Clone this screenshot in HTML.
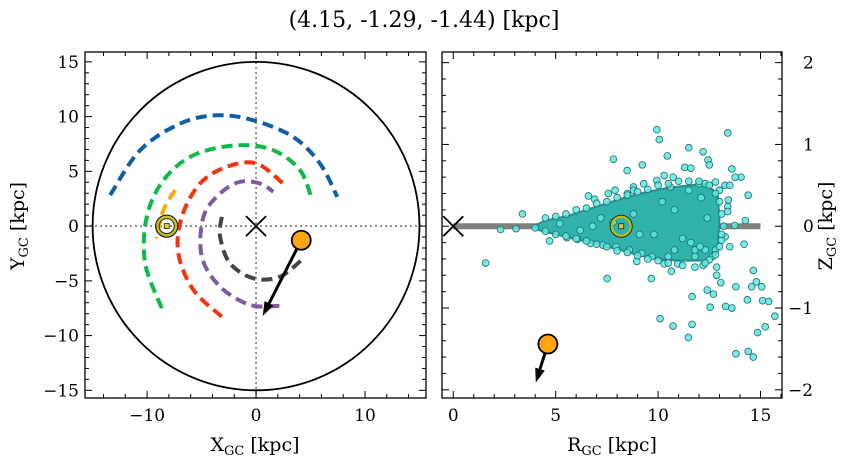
<!DOCTYPE html>
<html><head><meta charset="utf-8"><style>
html,body{margin:0;padding:0;background:#fff;width:854px;height:464px;overflow:hidden}
svg{display:block;font-family:"DejaVu Serif","Liberation Serif",serif}
</style></head><body>
<svg id="chart" width="854" height="464" viewBox="0 0 854 464" xmlns="http://www.w3.org/2000/svg">
<text x="424" y="27" font-size="22" text-anchor="middle">(4.15, -1.29, -1.44) [kpc]</text>
<g id="left"></g>
<g id="right"></g>
</svg>
<script>
// ---------- data ----------
const orbitBlue = [[-13.39,2.83],[-10.64,6.93],[-6.97,9.36],[-3.61,10.12],[-0.24,9.66],[3.42,8.14],[5.87,5.71],[7.46,2.67]];
const orbitGreen = [[-8.65,-7.5],[-10.18,-3.4],[-10.03,0.85],[-8.5,4.19],[-5.75,6.47],[-1.77,7.38],[1.59,6.93],[4.04,5.1],[5.11,2.52]];
const orbitOrange = [[-7.43,3.28],[-8.5,1.46],[-9.17,-1.12]];
const orbitRed = [[-3.15,-8.27],[-5.75,-5.83],[-7.13,-2.49],[-6.82,0.85],[-5.14,3.89],[-2.69,5.41],[0.06,5.71],[2.66,3.74]];
const orbitPurple = [[2.14,-7.29],[-0.55,-7.2],[-3.3,-5.53],[-4.98,-2.8],[-4.83,0.85],[-3.3,2.98],[-1.47,4.04],[0.37,3.89],[1.59,3.13]];
const orbitGrey = [[-3.15,0.85],[-3.3,-0.97],[-2.39,-3.4],[-0.24,-4.77],[2.2,-4.62],[4.34,-2.95]];
const starXY = [4.15,-1.29];
const arrowXY = [0.61,-8.2];
const sunXY = [-8.2,0];
const starRZ = [4.62,-1.44];
const arrowRZ = [4.03,-1.91];
const sunRZ = [8.2,0.0];
const coreR = [3.9,4.5,5.5,6.5,7.5,8.5,9.5,10.5,11.5,12.3,12.9,13.0,12.9,12.3,11,10,9,8,7,6,5,4.2];
const coreZ = [0.0,0.07,0.12,0.2,0.28,0.36,0.42,0.47,0.5,0.52,0.4,0.1,-0.3,-0.42,-0.42,-0.4,-0.35,-0.28,-0.22,-0.16,-0.1,-0.05];
const ptR = [9.94,10.06,13.4,11.5,12.2,7.82,10.45,9.23,8.49,13.6,14.05,14.4,6.6,3.38,2.31,3.07,1.58,4.7,7.51,9.67,10.1,10.73,11.66,11.48,11.66,12.4,12.7,12.54,13.3,13.6,13.8,13.8,14.4,14.65,14.86,15.23,15.7,14.65,14.8,15.06,15.1,15.4,14.36,14.57,14.2,14.26,13.74,12.86,13.06,12.86,12.2,11.8,10.96,10.65,10.3,8.96,13.76,12.44,12.5,11.3,11.6,10.74,10.3,9.94,13.27,13.5,13.0,13.43,13.4,13.4,13.27,13.5,13.1,12.66,12.5,12.3,12.8,8.8,8.8,8.5,7.57,7.9,6.9,9.3,10.6,11.5,12.0,12.3,12.8,10.8,10.5,9.7,9.2,8.6,7.95,7.3,6.7,6.05,5.55,11.8,12.05,
 4.5,5,5.5,6,6.5,7,7.5,8,8.5,9,9.5,10,10.5,11,11.5,12,12.5,12.8,13,13.1,13.2,13.1,13,12.8,12.3,11.8,11.2,10.5,10,9.5,9,8.5,8,7.5,7,6.5,6,5.5,5,4.5,4,
 5.2,6.2,7.2,8.8,9.8,10.8,11.6,12.4,10.2,11.2,12.1,9.1,7.8,6.8];
const ptZ = [1.18,1.06,1.14,0.96,0.91,0.82,0.86,0.75,0.68,0.70,0.60,0.38,0.37,0.15,-0.04,-0.03,-0.45,-0.18,-0.64,-0.64,-1.13,-1.22,-1.2,-1.36,-0.86,-0.78,-0.83,-0.99,-0.98,-1.0,-0.74,-1.56,-1.53,-1.6,-1.30,-1.23,-1.10,-0.54,-0.68,-0.74,-0.91,-0.92,-0.90,-0.74,-0.22,0.07,0.01,-0.60,-0.69,-0.5,-0.48,-0.29,-0.46,-0.55,-0.46,-0.43,0.6,0.81,0.75,0.72,0.71,0.60,0.62,0.56,0.5,0.5,0.44,0.32,0.24,0.18,-0.13,-0.25,-0.17,-0.37,-0.41,-0.29,-0.29,0.48,0.44,0.40,0.4,0.44,0.33,0.52,0.48,0.44,0.52,0.52,0.54,-0.29,-0.37,-0.37,-0.33,-0.29,-0.25,-0.23,-0.21,-0.16,-0.14,-0.37,-0.25,
 0.1,0.12,0.15,0.2,0.22,0.28,0.3,0.35,0.38,0.42,0.45,0.5,0.52,0.55,0.55,0.55,0.5,0.4,0.3,0.15,0,-0.1,-0.25,-0.35,-0.45,-0.5,-0.48,-0.45,-0.42,-0.4,-0.36,-0.32,-0.3,-0.25,-0.22,-0.18,-0.15,-0.12,-0.1,-0.06,-0.02,
 0.03,-0.05,0.1,0.15,-0.1,0.2,-0.2,0.1,0.3,-0.15,0.35,-0.1,0.05,0.0];
const leftXTicks = [-10,0,10];
const leftYTicks = [-15,-10,-5,0,5,10,15];
const rightXTicks = [0,5,10,15];
const rightYTicks = [-2,-1,0,1,2];

// ---------- helpers ----------
const NS = "http://www.w3.org/2000/svg";
function mk(tag, parent, attrs){const e=document.createElementNS(NS,tag);for(const k in attrs)e.setAttribute(k,attrs[k]);parent.appendChild(e);return e;}
function lin(d0,d1,p0,p1){return v=>p0+(v-d0)*(p1-p0)/(d1-d0);}
function smooth(pts){let d="M"+pts[0][0]+","+pts[0][1];for(let i=0;i<pts.length-1;i++){const p0=pts[Math.max(0,i-1)],p1=pts[i],p2=pts[i+1],p3=pts[Math.min(pts.length-1,i+2)];const c1=[p1[0]+(p2[0]-p0[0])/6,p1[1]+(p2[1]-p0[1])/6],c2=[p2[0]-(p3[0]-p1[0])/6,p2[1]-(p3[1]-p1[1])/6];d+=" C"+c1+" "+c2+" "+p2;}return d;}
function fmt(v){return v<0?"\u2212"+Math.abs(v):""+v;}

// ---------- left panel ----------
const L = document.getElementById("left");
const lx = lin(-15.7,15.6,85,426), ly = lin(15.9,-15.7,52,398);
const clipL = mk("clipPath", L, {id:"clipL"}); mk("rect", clipL, {x:85,y:52,width:341,height:346});
const gL = mk("g", L, {"clip-path":"url(#clipL)"});
let el;
el = mk("line", gL, {x1:lx(0),y1:52,x2:lx(0),y2:398,stroke:"#777","stroke-width":1.6,"stroke-dasharray":"2,3"});


el = mk("line", gL, {x1:85,y1:ly(0),x2:426,y2:ly(0),stroke:"#777","stroke-width":1.6,"stroke-dasharray":"2,3"});


el = mk("ellipse", gL, {cx:lx(0),cy:ly(0),rx:lx(15)-lx(0),ry:ly(-15)-ly(0),fill:"none",stroke:"#000","stroke-width":1.8});


const orbits=[[orbitBlue,"#0f5fa5","orbit-blue"],[orbitGreen,"#10b84a","orbit-green"],[orbitOrange,"#ffa500","orbit-orange"],[orbitRed,"#f5330f","orbit-red"],[orbitPurple,"#7f5a9c","orbit-purple"],[orbitGrey,"#454545","orbit-grey"]];
orbits.forEach(o=>{
  el = mk("path", gL, {d:smooth(o[0].map(p=>[lx(p[0]),ly(p[1])])),fill:"none",stroke:o[1],"stroke-width":4,"stroke-dasharray":"11,6"});
  
  
});
function cross(g,x,y,s){const c=mk("g",g,{});mk("line",c,{x1:x-s,y1:y-s,x2:x+s,y2:y+s,stroke:"#000","stroke-width":1.8});mk("line",c,{x1:x-s,y1:y+s,x2:x+s,y2:y-s,stroke:"#000","stroke-width":1.8});return c;}
el = cross(gL,lx(0),ly(0),10);


function sun(g,x,y){const s=mk("g",g,{});mk("circle",s,{cx:x,cy:y,r:11,fill:"none",stroke:"#222","stroke-width":1.3});mk("circle",s,{cx:x,cy:y,r:9,fill:"none",stroke:"#c8c000","stroke-width":2.2});mk("circle",s,{cx:x,cy:y,r:7.5,fill:"none",stroke:"#222","stroke-width":1});mk("rect",s,{x:x-2.5,y:y-2.5,width:5,height:5,fill:"#d9d040",stroke:"#222","stroke-width":0.8});return s;}
el = sun(gL,lx(sunXY[0]),ly(sunXY[1]));


function arrow(g,x1,y1,x2,y2,w){const a=mk("g",g,{});const ang=Math.atan2(y2-y1,x2-x1),h=14,hw=5;const bx=x2-h*Math.cos(ang),by=y2-h*Math.sin(ang);mk("line",a,{x1:x1,y1:y1,x2:bx,y2:by,stroke:"#000","stroke-width":w});mk("polygon",a,{points:[x2,y2,bx-hw*Math.sin(ang),by+hw*Math.cos(ang),bx+hw*Math.sin(ang),by-hw*Math.cos(ang)].join(","),fill:"#000"});return a;}
el = arrow(gL,lx(starXY[0]),ly(starXY[1]),lx(arrowXY[0]),ly(arrowXY[1]),3);


el = mk("circle", gL, {cx:lx(starXY[0]),cy:ly(starXY[1]),r:9.5,fill:"#ffa510",stroke:"#000","stroke-width":1.8});



function axesFrame(P,x0,y0,w,h,name){const r=mk("rect",P,{x:x0,y:y0,width:w,height:h,fill:"none",stroke:"#000","stroke-width":1.3});}
function ticks(P,sx,sy,xr,yr,xMaj,xMin,yMaj,yMin,box){
  const [x0,y0,x1,y1]=box;
  const g=mk("g",P,{stroke:"#000","stroke-width":1});
  for(let v=Math.ceil(xr[0]/xMin)*xMin; v<=xr[1]+1e-9; v+=xMin){const big=Math.abs(v/xMaj-Math.round(v/xMaj))<1e-6;const l=big?7:4;const x=sx(v);mk("line",g,{x1:x,y1:y1,x2:x,y2:y1-l});mk("line",g,{x1:x,y1:y0,x2:x,y2:y0+l});}
  for(let v=Math.ceil(yr[0]/yMin)*yMin; v<=yr[1]+1e-9; v+=yMin){const big=Math.abs(v/yMaj-Math.round(v/yMaj))<1e-6;const l=big?7:4;const y=sy(v);mk("line",g,{x1:x0,y1:y,x2:x0+l,y2:y});mk("line",g,{x1:x1,y1:y,x2:x1-l,y2:y});}
  return g;
}
el = ticks(L,lx,ly,[-15.7,15.6],[-15.7,15.9],10,2,5,1,[85,52,426,398]);


axesFrame(L,85,52,341,346,"left-axes-frame");
leftXTicks.forEach(v=>{el=mk("text",L,{x:lx(v),y:421,"font-size":17,"text-anchor":"middle"});el.textContent=fmt(v);

});
leftYTicks.forEach(v=>{el=mk("text",L,{x:79,y:ly(v)+6,"font-size":17,"text-anchor":"end"});el.textContent=fmt(v);

});
el=mk("text",L,{x:255,y:451,"font-size":19,"text-anchor":"middle"});el.innerHTML='X<tspan font-size="13" dy="4">GC</tspan><tspan dy="-4"> [kpc]</tspan>';


el=mk("text",L,{x:0,y:0,"font-size":19,"text-anchor":"middle",transform:"translate(24,226) rotate(-90)"});el.innerHTML='Y<tspan font-size="13" dy="4">GC</tspan><tspan dy="-4"> [kpc]</tspan>';



// ---------- right panel ----------
const R = document.getElementById("right");
const rx = lin(-0.55,16.05,442,782), ry = lin(2.13,-2.1,52,398);
const clipR = mk("clipPath", R, {id:"clipR"}); mk("rect", clipR, {x:442,y:52,width:340,height:346});
const gR = mk("g", R, {"clip-path":"url(#clipR)"});
el = mk("line", gR, {x1:rx(0),y1:ry(0),x2:rx(15),y2:ry(0),stroke:"#808080","stroke-width":6});


el = mk("polygon", gR, {points:coreR.map((r,i)=>rx(r)+","+ry(coreZ[i])).join(" "),fill:"#2fb3ac",stroke:"#2a8e8a","stroke-width":2,"stroke-linejoin":"round"});


ptR.forEach((r,i)=>{
  el = mk("circle", gR, {cx:rx(r),cy:ry(ptZ[i]),r:3.4,fill:"#5ee6df",stroke:"#1f6f6b","stroke-width":0.8,"fill-opacity":0.85});
  
  
});
el = cross(gR,rx(0),ry(0),10);


el = mk("g", gR, {});
mk("circle",el,{cx:rx(sunRZ[0]),cy:ry(sunRZ[1]),r:11,fill:"none",stroke:"#222","stroke-width":1});
mk("circle",el,{cx:rx(sunRZ[0]),cy:ry(sunRZ[1]),r:9.5,fill:"none",stroke:"#c8c000","stroke-width":2});
mk("rect",el,{x:rx(sunRZ[0])-2.5,y:ry(sunRZ[1])-2.5,width:5,height:5,fill:"#d9d040",stroke:"#222","stroke-width":0.8});


el = arrow(gR,rx(starRZ[0]),ry(starRZ[1]),rx(arrowRZ[0]),ry(arrowRZ[1]),3);


el = mk("circle", gR, {cx:rx(starRZ[0]),cy:ry(starRZ[1]),r:9.5,fill:"#ffa510",stroke:"#000","stroke-width":1.8});


el = ticks(R,rx,ry,[-0.55,16.05],[-2.1,2.13],5,1,1,0.2,[442,52,782,398]);


axesFrame(R,442,52,340,346,"right-axes-frame");
rightXTicks.forEach(v=>{el=mk("text",R,{x:rx(v),y:421,"font-size":17,"text-anchor":"middle"});el.textContent=fmt(v);

});
rightYTicks.forEach(v=>{el=mk("text",R,{x:v<0?788:803,y:ry(v)+6,"font-size":17,"text-anchor":"start"});el.textContent=fmt(v);

});
el=mk("text",R,{x:612,y:451,"font-size":19,"text-anchor":"middle"});el.innerHTML='R<tspan font-size="13" dy="4">GC</tspan><tspan dy="-4"> [kpc]</tspan>';


el=mk("text",R,{x:0,y:0,"font-size":19,"text-anchor":"middle",transform:"translate(832,226) rotate(-90)"});el.innerHTML='Z<tspan font-size="13" dy="4">GC</tspan><tspan dy="-4"> [kpc]</tspan>';


</script>
</body></html>
